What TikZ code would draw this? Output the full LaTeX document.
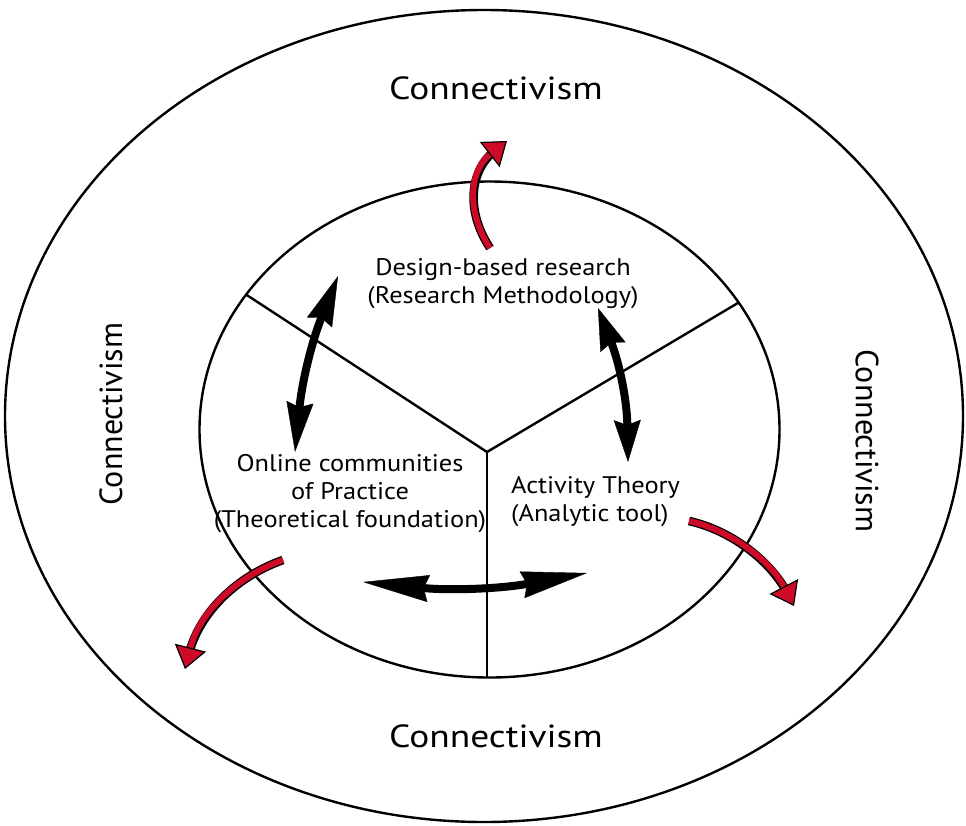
\documentclass[tikz,border=0pt]{standalone}
\usepackage{fontspec}
\setmainfont{PT Sans}
\newfontfamily\widesans[FakeStretch=1.17]{PT Sans}
\newfontfamily\midsans[FakeStretch=1.1]{PT Sans}
\usetikzlibrary{arrows.meta, positioning, shapes.geometric}
\definecolor{arrowred}{RGB}{205,10,40}

\begin{document}
\begin{tikzpicture}[x=1pt, y=-1pt, >=Stealth,
    ring/.style={ellipse, draw=black, line width=2.4pt, outer sep=0pt, inner sep=0pt},
    divider/.style={line width=2.4pt},
    theory/.style={font=\midsans\fontsize{24}{28}\selectfont, inner sep=0pt},
    outerlabel/.style={font=\widesans\fontsize{32}{38}\selectfont, inner sep=0pt},
    sidelabel/.style={font=\fontsize{32}{38}\selectfont, inner sep=0pt},
    link/.style={line width=8pt,
        {Stealth[length=#1, width=27pt, inset=5pt, line width=0.4pt]}-{Stealth[length=#1, width=27pt, inset=5pt, line width=0.4pt]}},
    link/.default=48pt,
    spread/.style={line width=6pt, arrowred,
        -{Triangle[length=22pt, width=32pt, color=black, fill=arrowred, line width=1.2pt]},
        preaction={draw=black, line width=8.6pt, -, shorten >=15pt}}]
    \useasboundingbox (0,0) rectangle (966,825);
        % rings
        \node (outer) [ring, minimum width=958pt, minimum height=812pt] at (484,416) {};
        \node (inner) [ring, minimum width=580pt, minimum height=496pt] at (489.5,429.5) {};
        \coordinate (hub) at (487,452);
        \draw[divider] (hub) -- (inner.151);
        \draw[divider] (hub) -- (inner.27);
        \draw[divider] (hub) -- (hub |- inner.south);
        % outer labels
        \node (top) [outerlabel] at (496,88) {Connectivism};
        \node (bottom) [outerlabel] at (496,736) {Connectivism};
        \node (left) [sidelabel, rotate=90] at (111,414) {Connectivism};
        \node (right) [sidelabel, rotate=-90] at (867,441) {Connectivism};
        % inner labels
        \node (dbr) [theory, align=center] at (503,284) {Design-based research\\(Research Methodology)};
        \node (ocp) [theory, align=center] at (350,494) {Online communities\\of Practice\\(Theoretical foundation)};
        \node (at) [theory, align=left, anchor=west] at (511,502) {Activity Theory\\(Analytic tool)};
        % black links
        \coordinate (ocpup) at (295,452);
        \coordinate (dbrleft) at (338,276);
        \coordinate (dbrright) at (598,308);
        \coordinate (atup) at (628,462);
        \coordinate (ocpright) at (363,582);
        \coordinate (atleft) at (587,573);
        \draw[link=50pt] (ocpup) to[bend left=8] (dbrleft);
        \draw[link=42pt] (dbrright) to[bend left=10] (atup);
        \draw[link=66pt] (ocpright) to[bend right=8] (atleft);
        % red arrows
        \coordinate (dbrout) at (490,248);
        \coordinate (dbrtip) at (507,141);
        \coordinate (ocpout) at (283,560);
        \coordinate (ocptip) at (185,669);
        \coordinate (atout) at (689,521);
        \coordinate (attip) at (794,606);
        \draw[spread] (dbrout) .. controls (465,210) and (470,170) .. (dbrtip);
        \draw[spread] (ocpout) .. controls (240,575) and (200,610) .. (ocptip);
        \draw[spread] (atout) .. controls (730,530) and (770,560) .. (attip);
    \end{tikzpicture}
\end{document}
